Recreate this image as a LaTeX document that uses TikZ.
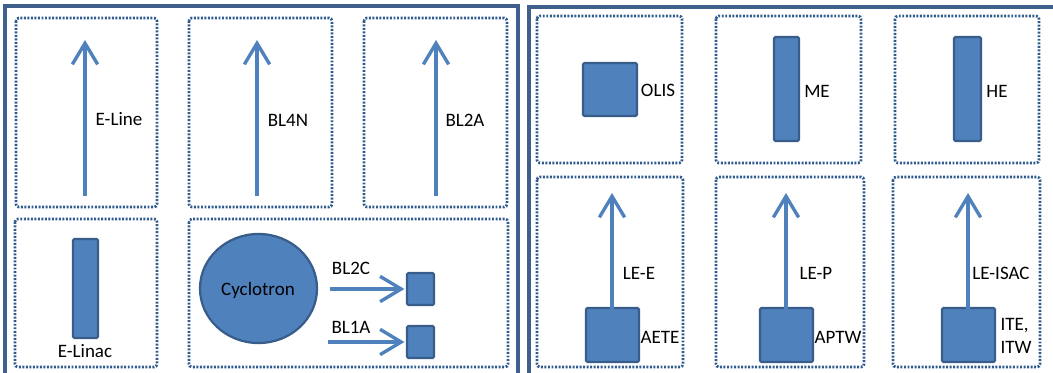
\documentclass[tikz,border=0pt]{standalone}
\usepackage{fontspec}
\setmainfont{Carlito}
\usetikzlibrary{arrows.meta,shapes.geometric}
\definecolor{beamblue}{HTML}{4F81BD}
\definecolor{edgeblue}{HTML}{385D8A}
\definecolor{framecol}{HTML}{3F608C}
\definecolor{dotcol}{HTML}{2F5A8E}

\begin{document}
\begin{tikzpicture}[x=0.025cm,y=-0.025cm,
                    font=\fontsize{13.5}{16}\selectfont]
  \tikzstyle{frame}=[draw=framecol,line width=2.2pt]
  \tikzstyle{zone}=[draw=dotcol,line width=1.9pt,dash pattern=on 1.4pt off 1.1pt,rounded corners=2pt]
  \tikzstyle{magnet}=[rectangle,fill=beamblue,draw=edgeblue,line width=1.6pt,inner sep=0pt,rounded corners=1pt]
  \tikzstyle{beam}=[draw=beamblue,line width=2.4pt,-{Straight Barb[length=15pt,width=18pt]}]
  \tikzstyle{tag}=[inner sep=0pt,text=black]

  \useasboundingbox (0,0) rectangle (1053,373);
  \clip (0,0) rectangle (1053,373);

  % outer frames
  \draw[frame] (5,6) rectangle (518,385);
  \draw[frame] (529,7) rectangle (1065,385);

  % dotted areas, left side
  \draw[zone] (16,18) rectangle (157,207);
  \draw[zone] (189,18) rectangle (332,207);
  \draw[zone] (364,18) rectangle (507,207);
  \draw[zone] (15,219) rectangle (157,367);
  \draw[zone] (189,219) rectangle (508,367);
  % dotted areas, right side
  \draw[zone] (537,16) rectangle (682,163);
  \draw[zone] (716,16) rectangle (861,163);
  \draw[zone] (895,16) rectangle (1039,163);
  \draw[zone] (537,177) rectangle (683,367);
  \draw[zone] (716,177) rectangle (864,367);
  \draw[zone] (893,177) rectangle (1040,367);

  % upper beam lines
  \coordinate (eline-s) at (85,196);  \coordinate (eline-e) at (85,40);
  \coordinate (bl4n-s)  at (257,196); \coordinate (bl4n-e)  at (257,40);
  \coordinate (bl2a-s)  at (436,196); \coordinate (bl2a-e)  at (436,40);
  \draw[beam] (eline-s) -- (eline-e);
  \draw[beam] (bl4n-s) -- (bl4n-e);
  \draw[beam] (bl2a-s) -- (bl2a-e);
  \node[tag] (eline) at (119,119) {E-Line};
  \node[tag] (bl4n)  at (288,120) {BL4N};
  \node[tag] (bl2a)  at (465,120) {BL2A};

  % drivers
  \node[magnet,minimum width=0.625cm,minimum height=2.475cm] (linac) at (85.5,288.5) {};
  \node[tag] (linac-l) at (85,351) {E-Linac};
  \node[ellipse,fill=beamblue,draw=edgeblue,line width=1.6pt,inner sep=0pt,
        minimum width=2.925cm,minimum height=2.725cm] (cyc) at (258.5,288.5) {};
  \node[tag] (cyc-l) at (258,290) {Cyclotron};
  \node[magnet,minimum width=0.675cm,minimum height=0.8cm] (t2c) at (420.5,289) {};
  \node[magnet,minimum width=0.675cm,minimum height=0.8cm] (t1a) at (420.5,342) {};
  \coordinate (bl2c-s) at (330,289);
  \coordinate (bl1a-s) at (328,342);
  \draw[beam,shorten >=1pt] (bl2c-s) -- (t2c.west);
  \draw[beam,shorten >=1pt] (bl1a-s) -- (t1a.west);
  \node[tag] (bl2c) at (351,268) {BL2C};
  \node[tag] (bl1a) at (351,327) {BL1A};

  % experimental areas
  \node[magnet,minimum width=1.35cm,minimum height=1.325cm] (olis) at (610,89.5) {};
  \node[magnet,minimum width=0.625cm,minimum height=2.6cm] (me) at (786.5,89) {};
  \node[magnet,minimum width=0.675cm,minimum height=2.6cm] (he) at (967.5,89) {};
  \node[tag] (olis-l) at (658,90) {OLIS};
  \node[tag] (me-l)   at (817,91) {ME};
  \node[tag] (he-l)   at (997,91) {HE};

  \node[magnet,minimum width=1.325cm,minimum height=1.35cm] (aete) at (612.5,335) {};
  \node[magnet,minimum width=1.325cm,minimum height=1.35cm] (aptw) at (786.5,335) {};
  \node[magnet,minimum width=1.325cm,minimum height=1.35cm] (itw)  at (968.5,335) {};
  \coordinate (lee-s) at (612,355);  \coordinate (lee-e) at (612,193);
  \coordinate (lep-s) at (786,355);  \coordinate (lep-e) at (786,193);
  \coordinate (lei-s) at (968,355);  \coordinate (lei-e) at (968,193);
  \draw[beam] (lee-s) -- (lee-e);
  \draw[beam] (lep-s) -- (lep-e);
  \draw[beam] (lei-s) -- (lei-e);
  \node[tag] (lee)  at (639,273) {LE-E};
  \node[tag] (lep)  at (816,273) {LE-P};
  \node[tag] (lei)  at (1001,273) {LE-ISAC};
  \node[tag] (aete-l) at (660,337) {AETE};
  \node[tag] (aptw-l) at (838,337) {APTW};
  \node[tag,align=left] (itw-l) at (1016,336) {ITE,\\ITW};
\end{tikzpicture}
\end{document}
